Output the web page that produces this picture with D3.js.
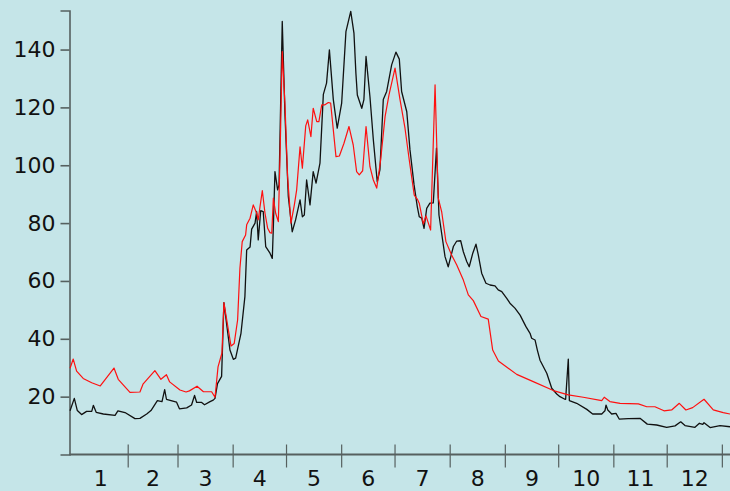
<!DOCTYPE html>
<html>
<head>
<meta charset="utf-8">
<script src="https://cdn.jsdelivr.net/npm/d3@7"></script>
<style>
  html, body { margin: 0; padding: 0; background: #c5e5e8; }
  svg { display: block; }
  text { font-family: "DejaVu Sans", Verdana, sans-serif; fill: #111; }
</style>
</head>
<body>
<svg id="chart" width="730" height="491"></svg>
<script>
// Day of year (0 = 1 January) and value for each series
const blackDays = [-1.7,0.7,2.4,4.8,7.6,10.5,11.4,13.0,17.0,23.6,25.2,29.2,34.8,37.6,41.4,43.8,47.4,50.0,51.5,52.5,58.2,59.8,63.9,66.6,68.3,69.5,72.3,73.9,77.0,78.8,79.8,81.2,83.5,84.8,88.2,90.1,91.4,94.4,96.6,97.6,99.5,100.4,102.3,103.2,104.1,105.5,106.9,108.3,110.7,112.0,112.6,113.5,115.0,115.8,117.6,119.1,121.0,123.2,125.1,127.6,128.9,130.0,131.3,133.2,135.0,136.6,138.8,140.7,142.5,144.1,146.3,148.5,151.0,153.4,156.1,157.9,159.0,159.8,162.3,163.5,164.7,166.9,168.8,171.0,172.5,174.4,176.3,179.1,181.5,183.4,184.7,187.6,189.4,191.7,193.5,194.6,196.0,197.3,198.8,200.6,202.5,204.3,205.7,207.2,209.1,210.9,213.8,215.7,217.9,219.4,221.3,222.7,224.7,226.5,227.8,229.7,232.1,234.4,237.2,239.0,241.0,243.8,245.6,248.4,251.3,254.6,256.9,257.8,259.7,261.0,262.5,266.3,269.1,271.9,273.7,276.5,276.9,278.4,279.0,283.1,288.8,292.1,297.2,299.0,299.6,300.6,302.8,305.2,307.1,312.1,318.7,322.8,328.1,333.7,338.4,341.6,344.0,349.6,352.1,354.0,354.7,358.1,363.7,369.3];
const blackValues = [15.1,19.4,15.2,13.8,14.9,14.9,17.0,14.6,14.0,13.5,15.1,14.5,12.4,12.5,14.0,15.2,18.6,18.3,22.4,19.1,18.1,15.8,16.1,17.1,20.4,18.0,18.0,17.2,18.3,18.8,19.4,24.5,27.0,52.5,36.1,32.9,33.3,41.9,54.6,70.7,71.7,77.9,80.0,84.0,74.2,84.3,84.0,71.9,69.6,67.8,78.8,97.8,91.5,93.2,149.7,118.0,89.2,77.0,81.1,88.0,82.2,82.8,94.9,86.3,97.8,93.8,100.7,124.5,128.4,139.9,122.7,112.8,121.5,146.2,153.2,145.7,131.8,124.3,119.7,122.7,137.6,123.7,108.8,94.3,98.4,122.7,125.5,134.7,139.1,136.7,125.5,118.5,105.3,93.2,85.7,82.2,81.7,78.2,85.1,86.9,87.0,105.9,82.8,76.5,68.4,64.9,71.9,73.8,73.9,70.1,66.7,64.9,69.6,72.7,69.0,62.7,59.2,58.6,58.3,56.9,56.3,54.0,52.3,50.6,48.2,44.2,41.9,40.2,39.6,36.1,32.6,28.1,22.9,20.9,20.0,19.1,19.1,33.0,18.6,17.7,15.6,14.0,14.0,15.1,17.1,15.4,14.0,14.2,12.2,12.4,12.5,10.5,10.2,9.4,9.9,11.3,10.0,9.4,10.8,10.4,11.0,9.3,10.0,9.6];

const redDays = [-1.7,0.1,2.0,5.7,10.5,15.3,23.0,25.4,32.0,37.6,39.3,46.0,49.4,52.5,54.3,60.1,63.5,65.4,69.7,73.3,77.9,79.8,81.5,83.7,84.8,88.8,90.6,92.5,93.8,95.1,97.0,97.6,99.5,101.3,103.2,104.1,105.1,106.4,107.9,109.4,110.7,111.7,112.6,113.9,115.4,116.3,117.6,119.1,120.6,122.5,124.4,125.7,127.6,128.9,130.8,131.9,133.7,135.0,137.0,138.2,139.8,141.6,143.5,144.8,147.8,149.7,152.3,155.1,157.5,159.4,160.9,162.8,164.7,166.9,168.8,170.7,172.9,175.4,177.6,181.0,183.8,186.6,189.0,191.8,193.5,194.6,196.9,198.4,201.0,203.5,205.3,207.2,209.6,212.8,215.7,219.4,222.2,225.0,229.3,233.4,235.9,239.1,249.4,258.7,270.0,278.4,286.8,297.2,298.6,301.8,307.5,317.8,322.5,327.1,332.2,336.5,340.8,344.5,348.3,354.7,359.9,365.5,369.3];
const redValues = [29.8,33.0,28.8,26.3,24.8,23.7,29.9,26.0,21.5,21.6,24.3,29.0,26.0,27.6,25.1,22.3,21.6,22.0,23.6,21.7,21.7,19.8,30.3,35.1,52.5,37.5,38.4,46.5,64.4,73.6,75.9,79.4,81.7,86.3,83.4,81.1,85.7,91.2,83.4,78.2,76.7,76.5,88.6,83.4,80.5,101.8,139.3,121.5,96.1,80.0,86.3,91.5,106.4,99.0,113.6,115.7,109.9,119.7,115.1,115.1,120.9,120.9,121.7,121.5,103.0,103.2,107.6,113.4,107.0,97.8,96.7,98.1,113.4,99.5,94.9,92.1,101.8,116.8,124.3,133.6,122.7,112.8,101.8,89.7,88.3,86.9,79.7,82.5,77.6,127.8,88.6,84.0,73.6,69.0,65.5,60.3,55.2,53.2,47.7,46.8,36.1,32.3,27.7,25.2,22.1,20.6,19.8,18.6,19.8,18.3,17.7,17.5,16.5,16.5,15.1,15.4,17.7,15.4,16.2,19.1,15.4,14.5,14.0];

// Month axis: labels and day count of each month
const monthLabels = ["1","2","3","4","5","6","7","8","9","10","11","12"];
const monthLengths = [31,28,31,30,31,30,31,31,30,31,30,31];
const yTicks = [20,40,60,80,100,120,140];

const dayStart = -2, dayEnd = 369.3, yMax = 153.5;

const svg = d3.select("#chart");
const W = 730, H = 491;
svg.append("rect").attr("width", W).attr("height", H).attr("fill", "#c5e5e8");

const x = d3.scaleLinear().domain([dayStart, dayEnd]).range([69.5, 730]);
const y = d3.scaleLinear().domain([0, yMax]).range([454.5, 10.5]);

const axisColor = "#56605f";

// Y axis
const yAxis = svg.append("g").attr("transform", `translate(${x(dayStart)},0)`)
  .call(d3.axisLeft(y).tickValues(yTicks).tickSize(9).tickPadding(5).tickFormat(d3.format("d")));
yAxis.select(".domain").attr("stroke", axisColor).attr("stroke-width", 1.6);
yAxis.selectAll(".tick line").attr("stroke", axisColor).attr("stroke-width", 1.6);
yAxis.selectAll(".tick text").attr("font-size", 22).attr("font-family", "DejaVu Sans, Verdana, sans-serif").attr("fill", "#111");

// X axis: baseline, month boundary ticks and centred month labels
const monthEnds = d3.cumsum(monthLengths);
const monthStarts = [0, ...Array.from(monthEnds).slice(0, -1)];
const gx = svg.append("g");
gx.append("line")
  .attr("x1", x(dayStart)).attr("x2", x(dayEnd))
  .attr("y1", y(0)).attr("y2", y(0))
  .attr("stroke", axisColor).attr("stroke-width", 2);
gx.selectAll("line.tick").data(Array.from(monthEnds)).join("line")
  .attr("class", "tick")
  .attr("x1", d => x(d)).attr("x2", d => x(d))
  .attr("y1", y(0) - 10).attr("y2", y(0) + 13)
  .attr("stroke", axisColor).attr("stroke-width", 1.2);
gx.selectAll("text").data(monthLabels).join("text")
  .attr("x", (d, i) => (Math.max(x(monthStarts[i]), x(dayStart)) + x(monthEnds[i])) / 2)
  .attr("y", 486)
  .attr("text-anchor", "middle")
  .attr("font-size", 22)
  .text(d => d);

// Series lines
const line = d3.line().x(d => x(d[0])).y(d => y(d[1]));
const blackData = d3.zip(blackDays, blackValues);
const redData = d3.zip(redDays, redValues);

svg.append("path").datum(blackData)
  .attr("d", line).attr("fill", "none")
  .attr("stroke", "#111").attr("stroke-width", 1.3).attr("stroke-linejoin", "round");
svg.append("path").datum(redData)
  .attr("d", line).attr("fill", "none")
  .attr("stroke", "#ff1010").attr("stroke-width", 1.2).attr("stroke-linejoin", "round");
</script>
</body>
</html>
